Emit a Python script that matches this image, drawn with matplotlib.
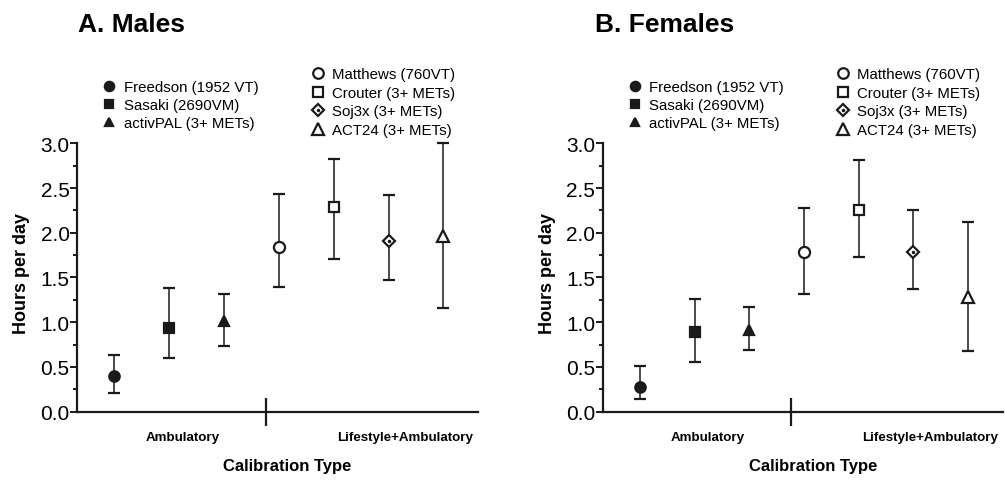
import numpy as np
import matplotlib.pyplot as plt
from matplotlib.lines import Line2D

plt.rcParams['font.family'] = ['Liberation Sans', 'DejaVu Sans']

methods = ['Freedson (1952 VT)', 'Sasaki (2690VM)', 'activPAL (3+ METs)',
           'Matthews (760VT)', 'Crouter (3+ METs)', 'Soj3x (3+ METs)', 'ACT24 (3+ METs)']
groups = ['Ambulatory', 'Lifestyle+Ambulatory']

male_mean = [0.40, 0.94, 1.01, 1.84, 2.29, 1.91, 1.96]
male_low = [0.21, 0.60, 0.73, 1.39, 1.71, 1.47, 1.16]
male_high = [0.63, 1.38, 1.32, 2.43, 2.83, 2.42, 3.00]

female_mean = [0.28, 0.89, 0.91, 1.79, 2.26, 1.79, 1.28]
female_low = [0.14, 0.56, 0.69, 1.32, 1.73, 1.37, 0.68]
female_high = [0.51, 1.26, 1.17, 2.28, 2.81, 2.26, 2.12]

# marker style per method: (marker, size, filled)
styles = [('o', 7.5, True), ('s', 7, True), ('^', 6.5, True),
          ('o', 8, False), ('s', 7.5, False), ('D', 6, False), ('^', 9, False)]

ink = '#1a1a1a'
fig = plt.figure(figsize=(10.05, 4.81), dpi=100)
ax1 = fig.add_axes([0.0766, 0.142, 0.399, 0.558])
ax2 = fig.add_axes([0.5997, 0.142, 0.398, 0.558])


def panel(ax, mean, low, high, title, tx):
    x = np.arange(1, len(mean) + 1)
    mean = np.array(mean)
    err = [mean - np.array(low), np.array(high) - mean]
    for i in range(len(x)):
        m, ms, filled = styles[i]
        ax.errorbar(x[i], mean[i], yerr=[[err[0][i]], [err[1][i]]], fmt=m, ms=ms,
                    mfc=ink if filled else 'white', mec=ink, mew=1.6, color=ink,
                    elinewidth=1.1, capsize=4, capthick=1.1, clip_on=False, zorder=3)
        if m == 'D':
            ax.plot(x[i], mean[i], 'o', ms=1.5, color=ink, zorder=4)
    ax.set_xlim(0.32, 7.63)
    ax.set_ylim(0, 3.0)
    ax.spines['top'].set_visible(False)
    ax.spines['right'].set_visible(False)
    for s in ['left', 'bottom']:
        ax.spines[s].set_linewidth(1.6)
        ax.spines[s].set_color(ink)
    ax.set_yticks(np.arange(0, 3.01, 0.5))
    ax.set_yticklabels(['%.1f' % v for v in np.arange(0, 3.01, 0.5)], fontsize=15)
    ax.set_yticks(np.arange(0.25, 3.0, 0.5), minor=True)
    ax.tick_params(axis='y', which='major', length=5, width=1.4, pad=0.3, color=ink)
    ax.tick_params(axis='y', which='minor', length=3, width=1.4, color=ink)
    ax.set_xticks([3.77])
    ax.set_xticklabels([''])
    ax.tick_params(axis='x', direction='inout', length=20, width=1.6, color=ink)
    ax.set_ylabel('Hours per day', fontsize=13, fontweight='bold')
    ax.yaxis.set_label_coords(-0.116, 0.52)
    ax.text(2.24, -0.093, groups[0], transform=ax.get_xaxis_transform(),
            ha='center', va='center', fontsize=9.6, fontweight='bold')
    ax.text(6.31, -0.093, groups[1], transform=ax.get_xaxis_transform(),
            ha='center', va='center', fontsize=9.6, fontweight='bold')
    ax.text(0.525, -0.2, 'Calibration Type', transform=ax.transAxes,
            ha='center', va='center', fontsize=12, fontweight='bold')
    fig.text(tx, 0.948, title, fontsize=19, fontweight='bold', ha='left', va='center')

    handles = []
    for i in range(len(methods)):
        m, ms, filled = styles[i]
        h = Line2D([], [], ls='none', marker=m, ms=ms * 0.9 if filled else ms * 0.95,
                   mfc=ink if filled else 'white', mec=ink, mew=1.6)
        if m == 'D':
            h = (h, Line2D([], [], ls='none', marker='o', ms=1.5, color=ink))
        handles.append(h)
    leg1 = ax.legend(handles[:3], methods[:3], loc='upper left',
                     bbox_to_anchor=(0.062, 1.235), frameon=False, fontsize=10.8,
                     handlelength=1.0, handletextpad=0.45, labelspacing=0.26,
                     borderpad=0, borderaxespad=0)
    ax.add_artist(leg1)
    ax.legend(handles[3:], methods[3:], loc='upper left',
              bbox_to_anchor=(0.582, 1.283), frameon=False, fontsize=10.8,
              handlelength=1.0, handletextpad=0.45, labelspacing=0.3,
              borderpad=0, borderaxespad=0)


panel(ax1, male_mean, male_low, male_high, 'A. Males', 0.078)
panel(ax2, female_mean, female_low, female_high, 'B. Females', 0.592)

fig.savefig('out.png', dpi=100)
